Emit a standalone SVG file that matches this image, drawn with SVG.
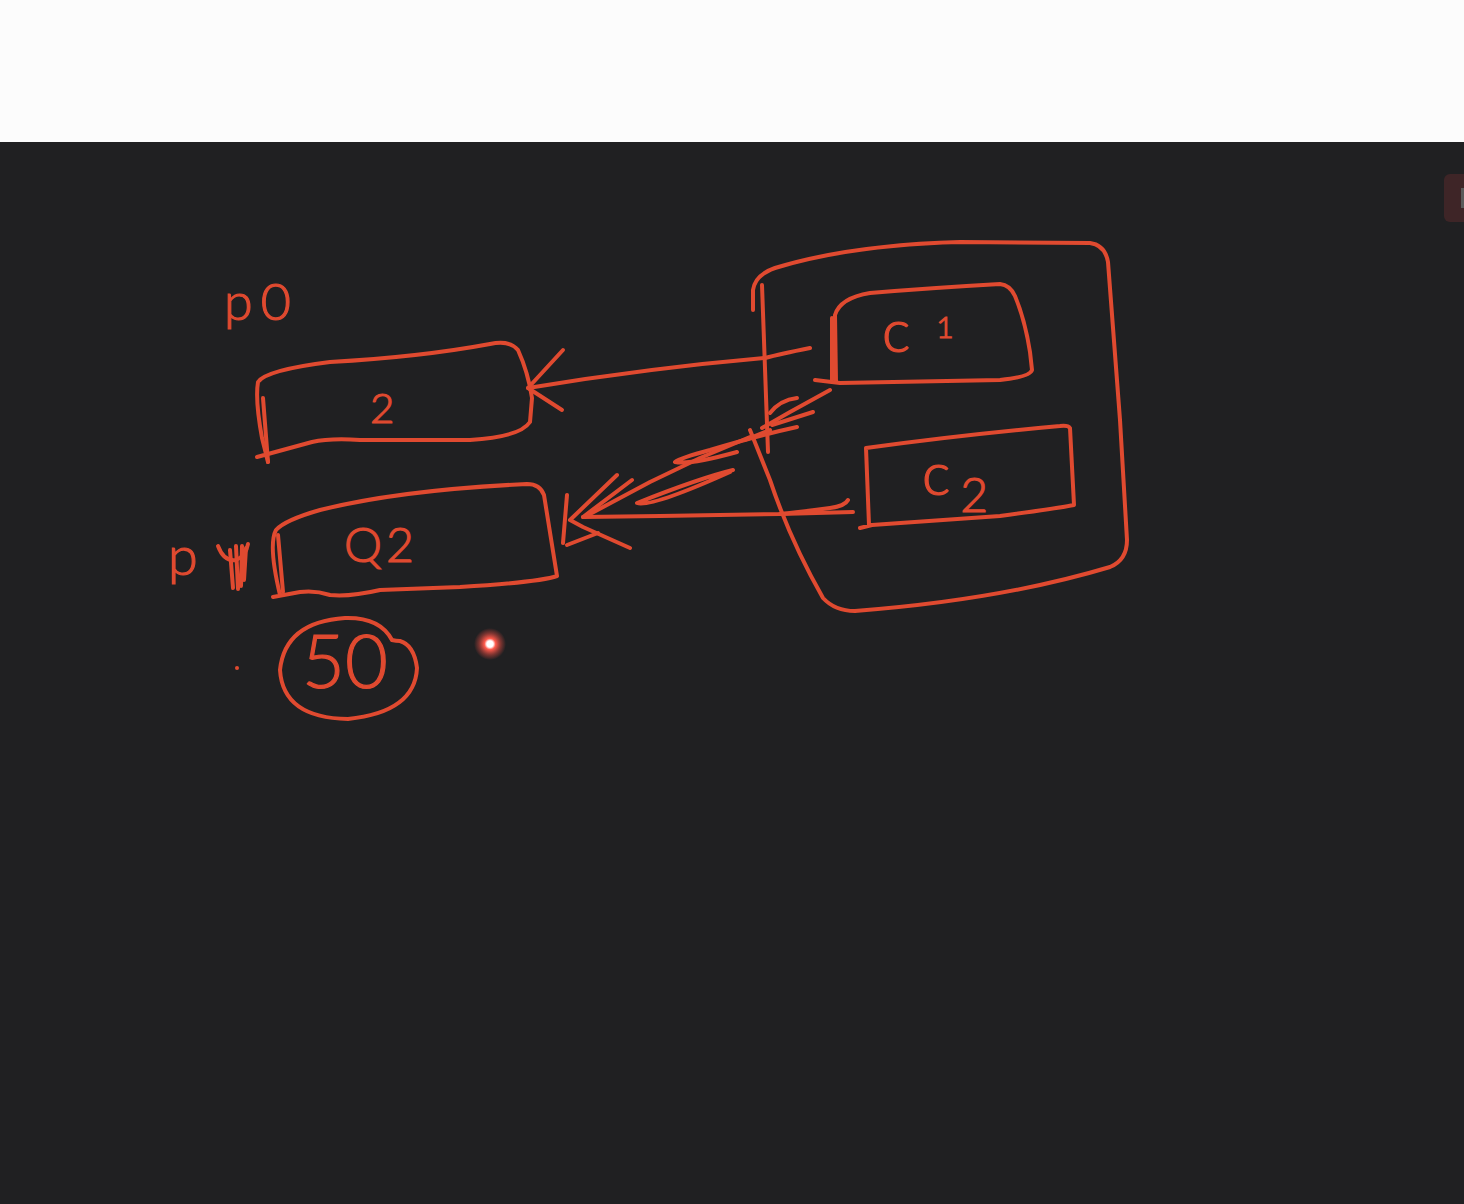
<svg xmlns="http://www.w3.org/2000/svg" width="1464" height="1204" viewBox="0 0 1464 1204">
<style>
.s{fill:none;stroke:#e04a30;stroke-width:4;stroke-linecap:round;stroke-linejoin:round}
.t{fill:#e04a30;stroke:#e04a30;stroke-width:1.2;font-family:Lato,"Open Sans","Liberation Sans",sans-serif;font-weight:300}
</style>
<defs>
<radialGradient id="laser" cx="0.5" cy="0.5" r="0.5">
<stop offset="0" stop-color="#ffffff"/>
<stop offset="0.2" stop-color="#ffffff"/>
<stop offset="0.35" stop-color="#ff5a4c"/>
<stop offset="0.7" stop-color="#e04a40" stop-opacity="0.45"/>
<stop offset="1" stop-color="#e04a40" stop-opacity="0"/>
</radialGradient>
</defs>
<rect x="0" y="0" width="1464" height="1204" fill="#202022"/>
<rect x="0" y="0" width="1464" height="142" fill="#fcfcfc"/>
<rect x="1444" y="174" width="30" height="48" rx="6" fill="#3e2527"/>
<rect x="1461" y="188" width="5" height="20" fill="#5a5a5a"/>

<g id="label-p0">
<text class="t" x="224" y="320" font-size="52" letter-spacing="8">p0</text>
</g>

<g id="node-box1">
<path class="s" d="M 257,457 L 312,442 Q 330,438 360,440 L 470,440 Q 520,437 530,422 L 532,398 Q 528,372 518,350 Q 510,340 490,344 Q 420,357 330,362 Q 266,370 258,382 Q 255,400 262,438 L 268,462"/>
<path class="s" d="M 263,398 L 268,462"/>
<text class="t" x="370" y="423" font-size="42">2</text>
</g>

<g id="label-p1">
<text class="t" x="168" y="575" font-size="54">p</text>
<path class="s" d="M 218,546 Q 224,562 236,560 Q 246,556 248,544"/>
<path class="s" d="M 230,550 L 233,588 M 236,546 L 238,589 M 242,546 L 241,586 M 246,548 L 244,580" stroke-width="6"/>
</g>

<g id="node-box2">
<path class="s" d="M 273,597 L 300,592 Q 315,590 330,595 Q 350,597 380,590 L 460,587 Q 540,582 557,576 L 544,495 Q 540,484 527,484 Q 400,490 320,510 Q 285,520 276,530 Q 268,545 280,595"/>
<path class="s" d="M 278,535 L 283,592"/>
<text class="t" x="344" y="562" font-size="48" letter-spacing="4">Q2</text>
</g>

<g id="node-50">
<path class="s" d="M 392,640 Q 380,617 345,618 Q 285,622 280,670 Q 283,718 348,719 Q 415,712 417,668 Q 414,645 400,641 Q 396,641 392,640"/>
<text class="t" x="302" y="688" font-size="74">50</text>
</g>

<circle cx="237" cy="668" r="2" fill="#e04a30"/>

<g id="node-group">
<path class="s" d="M 753,310 L 753,290 Q 755,275 775,268 Q 850,245 960,242 L 1090,243 Q 1105,245 1108,262 L 1120,420 L 1127,540 Q 1127,560 1110,567 Q 1000,600 855,611 Q 835,611 823,598 Q 790,540 770,480 L 750,430"/>
<path class="s" d="M 762,285 L 768,452"/>
</g>

<g id="node-c1">
<path class="s" d="M 815,380 L 840,383 L 1000,380 Q 1030,377 1032,370 L 1030,352 Q 1025,320 1015,296 Q 1010,285 1000,284 Q 930,288 870,293 Q 840,298 835,315 L 836,382"/>
<path class="s" d="M 832,318 L 832,380"/>
<text class="t" x="882" y="352" font-size="60">c<tspan dx="26" dy="-14" font-size="30">1</tspan></text>
</g>

<g id="node-c2">
<path class="s" d="M 860,528 L 872,525 L 1000,516 Q 1060,508 1074,505 L 1070,428 Q 1068,425 1060,426 Q 960,435 866,448 L 869,525"/>
<text class="t" x="922" y="495" font-size="60">c<tspan dx="10" dy="17" font-size="48">2</tspan></text>
</g>

<g id="connectors">
<path class="s" d="M 810,348 Q 780,354 765,358 Q 650,368 528,388"/>
<path class="s" d="M 563,350 L 528,388 L 562,410"/>
<path class="s" d="M 848,500 Q 845,506 830,508 Q 800,512 780,514 L 660,516 L 583,517"/>
<path class="s" d="M 853,512 L 780,514"/>
<path class="s" d="M 617,475 L 570,520 L 583,527 L 630,548"/>
<path class="s" d="M 632,480 L 583,517"/>
<path class="s" d="M 567,495 L 563,543"/>
<path class="s" d="M 598,533 L 567,545"/>
<path class="s" d="M 830,390 L 790,412 L 762,428"/>
<path class="s" d="M 797,398 Q 780,400 770,413"/>
<path class="s" d="M 813,412 L 772,425"/>
<path class="s" d="M 797,427 Q 760,435 710,450 Q 680,458 675,462 Q 690,465 737,452"/>
<path class="s" d="M 750,437 L 700,458 L 650,482 L 590,514"/>
<path class="s" d="M 733,470 Q 700,478 637,503 Q 650,508 730,472"/>
<path class="s" d="M 770,430 L 745,440" stroke-width="7"/>
</g>

<circle cx="490" cy="644" r="16" fill="url(#laser)"/>
</svg>
